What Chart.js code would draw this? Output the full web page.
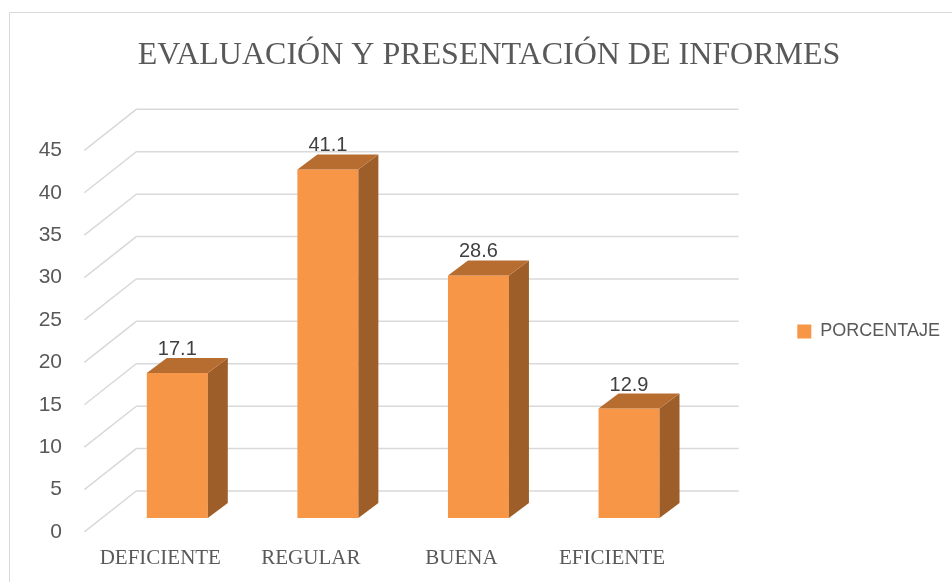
<!DOCTYPE html>
<html>
<head>
<meta charset="utf-8">
<script src="https://cdn.jsdelivr.net/npm/chart.js@4.4.1/dist/chart.umd.min.js"></script>
<style>
  body { margin: 0; background: #fff; }
  #wrap { width: 952px; height: 582px; }
</style>
</head>
<body>
<div id="wrap"><canvas id="evalChart" width="952" height="582"></canvas></div>
<script>
const categories = ["DEFICIENTE", "REGULAR", "BUENA", "EFICIENTE"];
const porcentaje = [17.1, 41.1, 28.6, 12.9];
const seriesName = "PORCENTAJE";
const titleText = "EVALUACIÓN Y PRESENTACIÓN DE INFORMES";
const yMin = 0, yMax = 45, yStep = 5;

// fake 3d depth
const DX = 52, DY = 41, F = 0.34;   // wall depth and where the bars sit in it
const BX = 20, BY = 15;             // bar depth

const frontColor = "#F79646";
const sideColor = "#9E5E29";
const topColor = "#B86D30";
const gridColor = "#d9d9d9";

const pseudo3d = {
    id: 'pseudo3d',
    beforeDatasetsDraw(chart) {
        const ctx = chart.ctx;
        const y = chart.scales.y;
        const area = chart.chartArea;
        ctx.save();
        ctx.strokeStyle = gridColor;
        ctx.lineWidth = 1.5;
        y.ticks.forEach(t => {
            const py = y.getPixelForValue(t.value);
            const backY = py - (1 - F) * DY;
            const backL = area.left + (1 - F) * DX;
            ctx.beginPath();
            ctx.moveTo(area.left - F * DX, py + F * DY);
            ctx.lineTo(backL, backY);
            ctx.lineTo(area.right + (1 - F) * DX, backY);
            ctx.stroke();
        });
        ctx.restore();
    },
    afterDatasetsDraw(chart) {
        const ctx = chart.ctx;
        const meta = chart.getDatasetMeta(0);
        ctx.save();
        meta.data.forEach((bar, i) => {
            const p = bar.getProps(['x', 'y', 'base', 'width'], true);
            const l = p.x - p.width / 2, r = p.x + p.width / 2;
            // side
            ctx.fillStyle = sideColor;
            ctx.beginPath();
            ctx.moveTo(r, p.y);
            ctx.lineTo(r + BX, p.y - BY);
            ctx.lineTo(r + BX, p.base - BY);
            ctx.lineTo(r, p.base);
            ctx.closePath();
            ctx.fill();
            // top
            ctx.fillStyle = topColor;
            ctx.beginPath();
            ctx.moveTo(l, p.y);
            ctx.lineTo(l + BX, p.y - BY);
            ctx.lineTo(r + BX, p.y - BY);
            ctx.lineTo(r, p.y);
            ctx.closePath();
            ctx.fill();
            // value label
            ctx.fillStyle = "#404040";
            ctx.font = "20px 'Liberation Sans', Arial, sans-serif";
            ctx.textAlign = "center";
            ctx.textBaseline = "alphabetic";
            ctx.fillText(String(porcentaje[i]), p.x, p.y - 18);
        });
        ctx.restore();
    },
    afterDraw(chart) {
        const ctx = chart.ctx;
        ctx.save();
        ctx.strokeStyle = "#d9d9d9";
        ctx.lineWidth = 1;
        ctx.beginPath();
        ctx.moveTo(9.5, 582);
        ctx.lineTo(9.5, 12.5);
        ctx.lineTo(952, 12.5);
        ctx.stroke();
        ctx.restore();
    }
};

var ctx = document.getElementById('evalChart');
var evalChart = new Chart(ctx, {
    type: 'bar',
    data: {
        labels: categories,
        datasets: [{
            label: seriesName,
            data: porcentaje,
            backgroundColor: frontColor,
            borderWidth: 0,
            categoryPercentage: 1,
            barPercentage: 0.405
        }]
    },
    options: {
        responsive: false,
        animation: false,
        layout: { padding: { left: 28, right: 2, top: 0, bottom: 0 } },
        plugins: {
            title: {
                display: true,
                text: titleText,
                color: '#595959',
                font: { family: "'Liberation Serif', 'Times New Roman', serif", size: 32, weight: 'normal' },
                padding: { top: 36, bottom: 62 }
            },
            legend: {
                position: 'right',
                fullSize: false,
                maxWidth: 400,
                title: { display: true, text: '', font: { size: 7 }, padding: 0 },
                labels: {
                    boxWidth: 14,
                    boxHeight: 14,
                    padding: 93,
                    color: '#595959',
                    font: { family: "'Liberation Sans', Arial, sans-serif", size: 18 }
                }
            },
            tooltip: { enabled: false }
        },
        scales: {
            x: {
                grid: { display: false, drawTicks: false },
                border: { display: false },
                ticks: {
                    color: '#595959',
                    font: { family: "'Liberation Serif', 'Times New Roman', serif", size: 21 },
                    labelOffset: -17,
                    padding: 28,
                    maxRotation: 0
                },
                afterFit: function(scale) { scale.height = 64; }
            },
            y: {
                min: yMin,
                max: yMax,
                grid: { display: false, drawTicks: false },
                border: { display: false },
                ticks: {
                    stepSize: yStep,
                    color: '#595959',
                    font: { family: "'Liberation Sans', Arial, sans-serif", size: 21 },
                    labelOffset: 14,
                    padding: 40
                },
                afterFit: function(scale) { scale.width = 74; }
            }
        }
    },
    plugins: [pseudo3d]
});
</script>
</body>
</html>
